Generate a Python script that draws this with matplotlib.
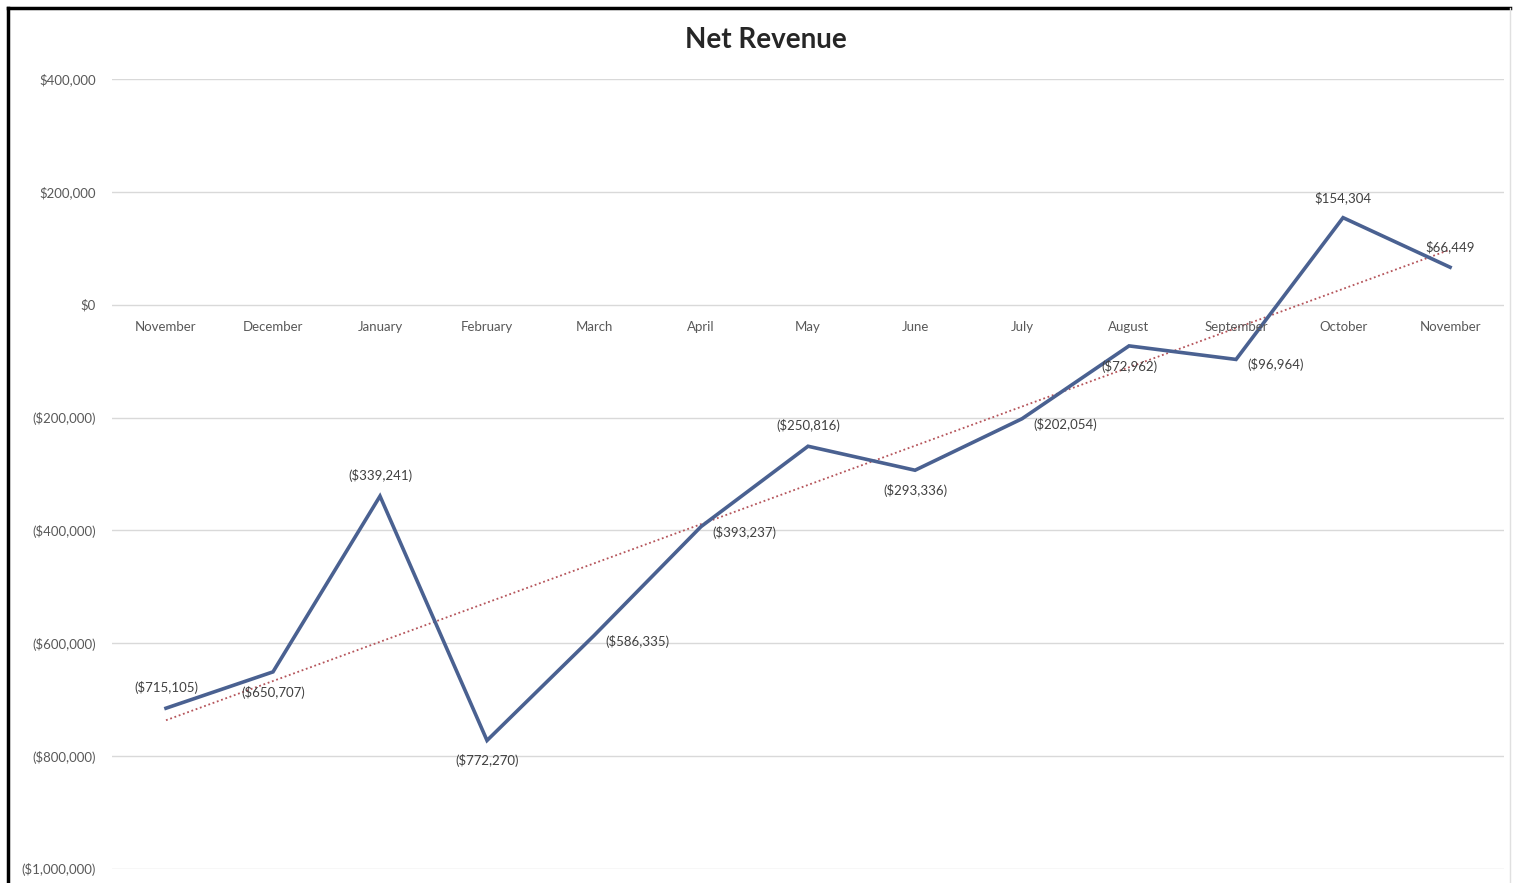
import matplotlib.pyplot as plt
import numpy as np
from matplotlib.lines import Line2D

# Monthly net revenue values
months = ['November', 'December', 'January', 'February', 'March', 'April', 'May',
          'June', 'July', 'August', 'September', 'October', 'November']
net_revenue = [-715105, -650707, -339241, -772270, -586335, -393237, -250816,
               -293336, -202054, -72962, -96964, 154304, 66449]
# where each data label sits relative to its point
label_side = ['above', 'below', 'above', 'below', 'right', 'right', 'above',
              'below', 'right', 'below', 'right', 'above', 'above']
y_ticks = [400000, 200000, 0, -200000, -400000, -600000, -800000, -1000000]

plt.rcParams['font.family'] = ['Lato', 'DejaVu Sans']


def money(v):
    if v < 0:
        return '(${:,.0f})'.format(-v)
    return '${:,.0f}'.format(v)


fig = plt.figure(figsize=(15.16, 8.83), dpi=100)
ax = fig.add_axes([0.0742, 0.0159, 0.9176, 0.8946])

x = np.arange(len(months))

# gridlines
for t in y_ticks:
    ax.axhline(t, color='#d9d9d9', linewidth=1.0, zorder=0)

# linear trendline (least squares, like Excel)
slope, icpt = np.polyfit(x, net_revenue, 1)
ax.plot(x, slope * x + icpt, linestyle=(0, (1, 1.5)), color='#b5545a',
        linewidth=1.3, zorder=2)

ax.plot(x, net_revenue, color='#4a6191', linewidth=2.6, zorder=3,
        solid_joinstyle='miter')

offsets = {'above': (0, 10, 'center', 'bottom'),
           'below': (0, -10, 'center', 'top'),
           'right': (8, -4, 'left', 'center'),
           'left': (-10, 14, 'center', 'bottom')}
for xi, v, side in zip(x, net_revenue, label_side):
    dx, dy, ha, va = offsets[side]
    ax.annotate(money(v), (xi, v), xytext=(dx, dy), textcoords='offset points',
                ha=ha, va=va, fontsize=9.5, color='#404040', zorder=4)

# category labels just under the zero line
for xi, m in zip(x, months):
    ax.annotate(m, (xi, 0), xytext=(0, -16), textcoords='offset points',
                ha='center', va='center', fontsize=9.5, color='#595959')

ax.set_xlim(-0.5, len(months) - 0.5)
ax.set_ylim(-1000000, 400000)
ax.set_yticks(y_ticks)
ax.set_yticklabels([money(t) for t in y_ticks], fontsize=9.5, color='#595959')
ax.tick_params(axis='y', length=0, pad=12)
ax.set_xticks([])
for s in ax.spines.values():
    s.set_visible(False)

fig.text(0.505, 0.955, 'Net Revenue', ha='center', va='center', fontsize=20,
         color='#262626', fontweight='bold')

# chart frame
fig.add_artist(Line2D([8 / 1516, 8 / 1516], [0, 1 - 8 / 883], transform=fig.transFigure,
                      color='black', linewidth=2.5))
fig.add_artist(Line2D([8 / 1516, 1510 / 1516], [1 - 8 / 883, 1 - 8 / 883],
                      transform=fig.transFigure, color='black', linewidth=2.5))
fig.add_artist(Line2D([1510 / 1516, 1510 / 1516], [0, 1 - 8 / 883], transform=fig.transFigure,
                      color='#e0e0e0', linewidth=1))

fig.savefig('out.png', dpi=100)
